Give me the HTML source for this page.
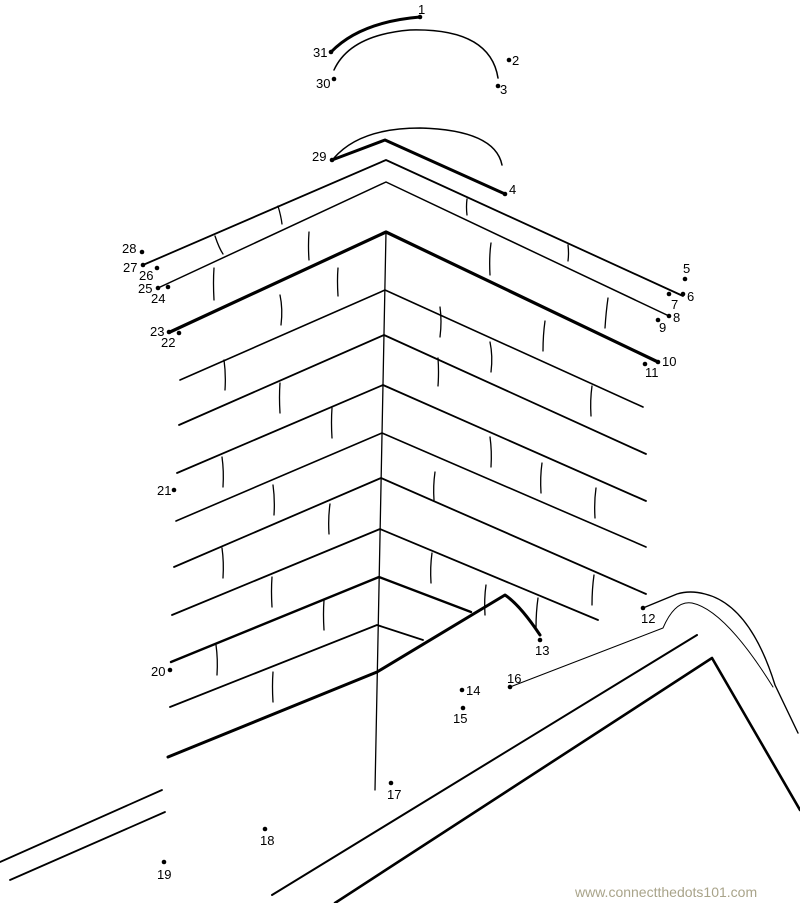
<!DOCTYPE html>
<html><head><meta charset="utf-8"><style>
html,body{margin:0;padding:0;background:#fff}
svg{display:block}
text{font-family:"Liberation Sans",sans-serif;font-size:13px;fill:#000}
</style></head><body>
<svg width="800" height="903" viewBox="0 0 800 903" xmlns="http://www.w3.org/2000/svg">
<g fill="none" stroke="#000" stroke-linecap="round" stroke-linejoin="round">
<path d="M331,52 Q360,22 420,17" stroke-width="3"/>
<path d="M334,70 Q350,35 410,30 Q490,28 498,78" stroke-width="1.5"/>
<path d="M334,158 Q360,128 420,128 Q495,130 502,165" stroke-width="1.5"/>
<polyline points="332,160 385,140 505,194" stroke-width="3"/>
<polyline points="143,265 386,160 683,296" stroke-width="1.8"/>
<polyline points="158,288 386,182 669,316" stroke-width="1.5"/>
<polyline points="170,332 386,232 658,362" stroke-width="3.2"/>
<polyline points="180,380 385,290 643,407" stroke-width="1.6"/>
<polyline points="179,425 384,335 646,454" stroke-width="1.8"/>
<polyline points="177,473 383,385 646,501" stroke-width="1.8"/>
<polyline points="176,521 382,433 646,547" stroke-width="1.6"/>
<polyline points="174,567 381,478 646,594" stroke-width="1.8"/>
<polyline points="172,615 380,529 598,620" stroke-width="1.8"/>
<polyline points="171,662 379,577 471,612" stroke-width="2.4"/>
<polyline points="170,707 377,625 423,640" stroke-width="1.8"/>
<path d="M386,232 L375,790" stroke-width="1.3"/>
<path d="M168,757 L377,672 L505,595 Q520,605 540,635" stroke-width="3"/>
<path d="M510,687 L663,628 Q675,600 692,603 Q725,610 773,687" stroke-width="1"/>
<path d="M643,608 L677,594 Q690,590 705,594 Q750,605 775,685 L798,733" stroke-width="1.4"/>
<path d="M272,895 L697,635" stroke-width="2"/>
<path d="M335,903 L712,658 L800,810" stroke-width="2.6"/>
<path d="M0,862 L162,790" stroke-width="1.8"/>
<path d="M10,880 L165,812" stroke-width="1.8"/>
<g stroke-width="1.3">
<path d="M278,206 q3,10 4,18"/><path d="M215,236 q4,12 8,18"/>
<path d="M467,199 q-1,8 0,16"/><path d="M568,245 q1,8 0,16"/>
<path d="M309,232 q-1,14 0,28"/><path d="M214,268 q-1,14 0,32"/>
<path d="M491,243 q-2,14 -1,32"/><path d="M608,298 q-2,14 -3,30"/>
<path d="M280,295 q3,14 1,30"/><path d="M338,268 q-1,12 0,28"/>
<path d="M440,307 q2,14 0,30"/><path d="M545,321 q-2,14 -2,30"/>
<path d="M224,360 q2,14 1,30"/><path d="M280,383 q-1,14 0,30"/>
<path d="M332,408 q-1,14 0,30"/><path d="M438,358 q1,14 0,28"/>
<path d="M490,342 q3,14 1,30"/><path d="M592,386 q-2,14 -1,30"/>
<path d="M222,457 q2,14 1,30"/><path d="M273,485 q2,14 1,30"/>
<path d="M330,504 q-2,14 -1,30"/><path d="M435,472 q-2,14 -1,28"/>
<path d="M490,437 q2,14 1,30"/><path d="M542,463 q-2,14 -1,30"/>
<path d="M596,488 q-2,14 -1,30"/><path d="M222,548 q2,14 1,30"/>
<path d="M272,577 q-1,14 0,30"/><path d="M324,600 q-1,14 0,30"/>
<path d="M432,553 q-2,14 -1,30"/><path d="M486,585 q-2,14 -1,30"/>
<path d="M538,598 q-2,14 -2,30"/><path d="M594,575 q-2,14 -2,30"/>
<path d="M216,645 q2,14 1,30"/><path d="M273,672 q-1,14 0,30"/>
</g>
</g>
<g fill="#000">
<circle cx="420" cy="17" r="2.3"/><circle cx="509" cy="60" r="2.3"/><circle cx="498" cy="86" r="2.3"/>
<circle cx="334" cy="79" r="2.3"/><circle cx="331" cy="52" r="2.3"/><circle cx="332" cy="160" r="2.3"/>
<circle cx="505" cy="194" r="2.3"/><circle cx="685" cy="279" r="2.3"/><circle cx="683" cy="294" r="2.3"/>
<circle cx="669" cy="294" r="2.3"/><circle cx="669" cy="316" r="2.3"/><circle cx="658" cy="320" r="2.3"/>
<circle cx="658" cy="362" r="2.3"/><circle cx="645" cy="364" r="2.3"/><circle cx="643" cy="608" r="2.3"/>
<circle cx="540" cy="640" r="2.3"/><circle cx="462" cy="690" r="2.3"/><circle cx="463" cy="708" r="2.3"/>
<circle cx="510" cy="687" r="2.3"/><circle cx="391" cy="783" r="2.3"/><circle cx="265" cy="829" r="2.3"/>
<circle cx="164" cy="862" r="2.3"/><circle cx="170" cy="670" r="2.3"/><circle cx="174" cy="490" r="2.3"/>
<circle cx="179" cy="333" r="2.3"/><circle cx="169" cy="332" r="2.3"/><circle cx="168" cy="287" r="2.3"/>
<circle cx="158" cy="288" r="2.3"/><circle cx="157" cy="268" r="2.3"/><circle cx="143" cy="265" r="2.3"/>
<circle cx="142" cy="252" r="2.3"/>
</g>
<g>
<text x="418" y="14">1</text><text x="512" y="65">2</text><text x="500" y="94">3</text>
<text x="316" y="88">30</text><text x="313" y="57">31</text><text x="312" y="161">29</text>
<text x="509" y="194">4</text><text x="683" y="273">5</text><text x="687" y="301">6</text>
<text x="671" y="309">7</text><text x="673" y="322">8</text><text x="659" y="332">9</text>
<text x="662" y="366">10</text><text x="645" y="377">11</text><text x="641" y="623">12</text>
<text x="535" y="655">13</text><text x="466" y="695">14</text><text x="453" y="723">15</text>
<text x="507" y="683">16</text><text x="387" y="799">17</text><text x="260" y="845">18</text>
<text x="157" y="879">19</text><text x="151" y="676">20</text><text x="157" y="495">21</text>
<text x="161" y="347">22</text><text x="150" y="336">23</text><text x="151" y="303">24</text>
<text x="138" y="293">25</text><text x="139" y="280">26</text><text x="123" y="272">27</text>
<text x="122" y="253">28</text>
<text x="575" y="897" style="font-size:14px;fill:#a9a48a">www.connectthedots101.com</text>
</g>
</svg>
</body></html>
